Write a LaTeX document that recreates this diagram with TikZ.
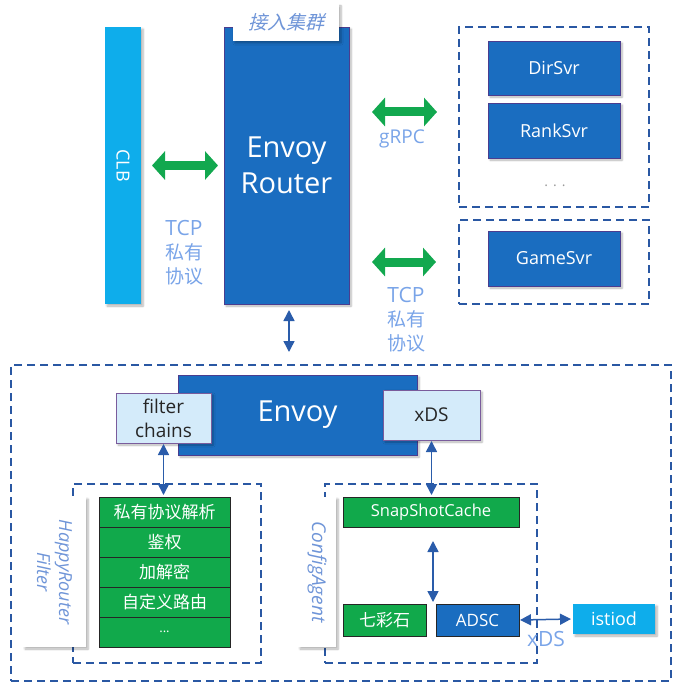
\documentclass[tikz,border=0pt]{standalone}
\usepackage{fontspec}
\setmainfont{Open Sans}
\newfontfamily\cjk{Noto Sans CJK SC}
\newfontfamily\cjkit{Noto Sans CJK SC}[FakeSlant=0.25]
\usetikzlibrary{arrows.meta,calc,shadows.blur}
\definecolor{dblue}{HTML}{1A6DC0}
\definecolor{bordp}{HTML}{4A3D8F}
\definecolor{ggreen}{HTML}{11A94B}
\definecolor{agreen}{HTML}{12A84F}
\definecolor{lbox}{HTML}{D4EBFA}
\definecolor{lboxb}{HTML}{7A5C9C}
\definecolor{cyanb}{HTML}{0EADEB}
\definecolor{dashc}{HTML}{2A58A3}
\definecolor{lbltxt}{HTML}{79A4E8}
\definecolor{ittxt}{HTML}{6F95D8}
\definecolor{arrb}{HTML}{2A5CAA}
\tikzset{
  base/.style={anchor=north west, inner sep=0pt, outer sep=0pt, align=center},
  shad/.style={blur shadow={shadow xshift=2pt, shadow yshift=-2pt, shadow blur steps=6, shadow opacity=30}},
  darkbox/.style={base, shad, fill=dblue, draw=bordp, line width=0.8pt, text=white},
  cyanbox/.style={base, shad, fill=cyanb, text=white},
  greenbox/.style={base, fill=ggreen, draw=black!85, line width=0.8pt, text=white},
  lightbox/.style={base, shad, fill=lbox, draw=lboxb, line width=1pt, text=black!85},
  whitebox/.style={base, shad, fill=white, text=ittxt},
  dashbox/.style={base, draw=dashc, line width=1.8pt, dash pattern=on 8pt off 5pt},
  garrow/.style={draw=agreen, line width=9pt, {Triangle[length=13pt,width=28pt]}-{Triangle[length=13pt,width=28pt]}},
  barrow/.style={draw=arrb, line width=1.5pt, {Triangle[length=11pt,width=11pt]}-{Triangle[length=11pt,width=11pt]}},
  lbl/.style={text=lbltxt, align=center, inner sep=0pt},
  svr/.style={font=\fontsize{18}{20}\selectfont},
  row/.style={font=\cjk\fontsize{17}{18}\selectfont},
}
\begin{document}
\begin{tikzpicture}[x=1pt,y=-1pt]
\useasboundingbox (0,0) rectangle (683,690);
% dashed groups
\node[dashbox, minimum width=190pt, minimum height=180pt] (b1) at (459,27) {};
\node[dashbox, minimum width=190pt, minimum height=84pt] (b2) at (459,220) {};
\node[dashbox, minimum width=660pt, minimum height=316pt] (big) at (11,365) {};
\node[dashbox, minimum width=188pt, minimum height=179pt] (hr) at (73,484) {};
\node[dashbox, minimum width=212pt, minimum height=179pt] (ca) at (325,484) {};
% top part
\node[cyanbox, minimum width=36pt, minimum height=277pt] (clb) at (105,27) {};
\node[rotate=-90, text=white, font=\fontsize{18}{20}\selectfont] (clbt) at (clb.center) {CLB};
\node[darkbox, minimum width=125pt, minimum height=277pt, font=\fontsize{29}{36}\selectfont] (er) at (224,27) {Envoy\\Router};
\node[whitebox, minimum width=106pt, minimum height=37pt, font=\cjkit\fontsize{19}{20}\selectfont] (lab) at (233,4) {接入集群};
\node[darkbox, svr, minimum width=132pt, minimum height=54pt] (dir) at (488,41) {DirSvr};
\node[darkbox, svr, minimum width=132pt, minimum height=55pt] (rank) at (488,103) {RankSvr};
\node[text=black!40, inner sep=0pt, font=\fontsize{14}{14}\selectfont] (dots) at (555,186) {.\hspace{5pt}.\hspace{5pt}.};
\node[darkbox, svr, minimum width=132pt, minimum height=55pt] (game) at (488,231) {GameSvr};
% bottom part
\node[darkbox, minimum width=239pt, minimum height=80pt, font=\fontsize{29}{36}\selectfont] (env) at (178,375) {Envoy};
\node[lightbox, minimum width=95pt, minimum height=50pt, font=\fontsize{19}{24}\selectfont] (fc) at (116,393) {filter\\chains};
\node[lightbox, minimum width=97pt, minimum height=50pt, font=\fontsize{19}{24}\selectfont] (xds) at (383,390) {xDS};
\node[whitebox, minimum width=63pt, minimum height=150pt] (hrl) at (23,497) {};
\node[rotate=-90, text=ittxt, align=center, font=\itshape\fontsize{18}{22}\selectfont] (hrlt) at (hrl.center) {HappyRouter\\Filter};
\node[greenbox, row, minimum width=131pt, minimum height=30pt] (r1) at (99,497) {私有协议解析};
\node[greenbox, row, minimum width=131pt, minimum height=30pt] (r2) at (99,527) {鉴权};
\node[greenbox, row, minimum width=131pt, minimum height=30pt] (r3) at (99,557) {加解密};
\node[greenbox, row, minimum width=131pt, minimum height=30pt] (r4) at (99,587) {自定义路由};
\node[greenbox, minimum width=131pt, minimum height=30pt, font=\fontsize{13}{14}\selectfont] (r5) at (99,617) {...};
\node[whitebox, minimum width=38pt, minimum height=150pt] (cal) at (298,497) {};
\node[rotate=-90, text=ittxt, font=\itshape\fontsize{19}{22}\selectfont] (calt) at (cal.center) {ConfigAgent};
\node[greenbox, minimum width=176pt, minimum height=30pt, font=\fontsize{16.5}{18}\selectfont] (snap) at (343,497) {SnapShotCache};
\node[greenbox, row, minimum width=83pt, minimum height=32pt] (qcs) at (343,604) {七彩石};
\node[greenbox, fill=dblue, minimum width=83pt, minimum height=32pt, font=\fontsize{17}{18}\selectfont] (adsc) at (436,604) {ADSC};
\node[cyanbox, minimum width=82pt, minimum height=30pt, font=\fontsize{18}{18}\selectfont] (ist) at (573,604) {istiod};
% labels
\node[lbl, font=\fontsize{21}{24}\selectfont] (t1) at (184,253) {TCP\\{\cjk\fontsize{19}{24}\selectfont 私有}\\{\cjk\fontsize{19}{24}\selectfont 协议}};
\node[lbl, font=\fontsize{19}{22}\selectfont] (grpc) at (402,139) {gRPC};
\node[lbl, font=\fontsize{21}{24}\selectfont] (t2) at (406,320) {TCP\\{\cjk\fontsize{19}{24}\selectfont 私有}\\{\cjk\fontsize{19}{24}\selectfont 协议}};
\node[lbl, font=\fontsize{21}{24}\selectfont] (xdsl) at (546,639) {xDS};
% connectors
\draw[garrow] ($(clb.east)+(11,0)$) -- ($(er.west)+(-6,0)$);
\draw[garrow] ($(er.east |- b1.west)+(23,-5)$) -- ($(b1.west)+(-22,-5)$);
\draw[garrow] ($(er.east |- b2.west)+(23,0)$) -- ($(b2.west)+(-23,0)$);
\draw[barrow] ($(er.south)+(2.5,6)$) -- ($(er.south |- big.north)+(2.5,-13)$);
\draw[barrow] ($(fc.south)+(0,1)$) -- ($(fc.south |- r1.north)+(0,-2)$);
\draw[barrow] ($(xds.south)+(0,1)$) -- ($(xds.south |- snap.north)+(0,-2)$);
\draw[barrow] ($(snap.south)+(2,14)$) -- ($(snap.south |- adsc.north)+(2,-2)$);
\draw[barrow] ($(adsc.east)+(1,0)$) -- ($(ist.west)+(-2,0)$);
\end{tikzpicture}
\end{document}
